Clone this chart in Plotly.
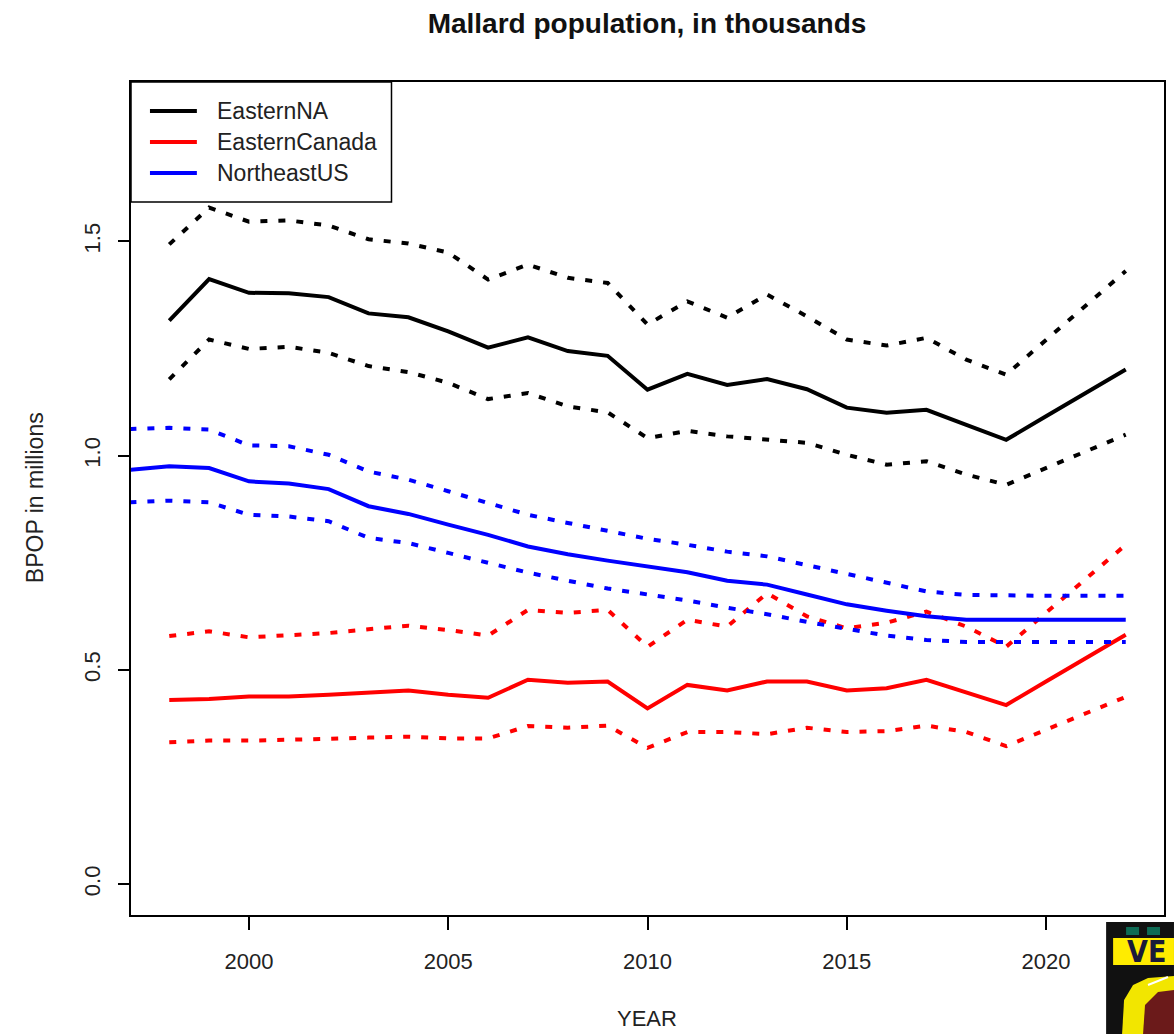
import plotly.graph_objects as go

# Survey years
years = list(range(1998, 2023))
ne_years = list(range(1997, 2023))

# Breeding population estimates (millions) with lower/upper bounds
eastern_na = [1.315, 1.412, 1.380, 1.379, 1.370, 1.332, 1.323, 1.290, 1.252, 1.276, 1.244, 1.233, 1.154,
              1.191, 1.165, 1.179, 1.155, 1.112, 1.100, 1.107, 1.072, 1.037, 1.092, 1.146, 1.201]
eastern_na_hi = [1.493, 1.579, 1.546, 1.549, 1.537, 1.505, 1.495, 1.474, 1.411, 1.446, 1.415, 1.403, 1.306,
                 1.360, 1.322, 1.376, 1.325, 1.271, 1.257, 1.275, 1.224, 1.189, 1.270, 1.350, 1.431]
eastern_na_lo = [1.178, 1.271, 1.249, 1.254, 1.240, 1.209, 1.195, 1.170, 1.132, 1.146, 1.115, 1.101, 1.041,
                 1.058, 1.045, 1.037, 1.030, 1.002, 0.979, 0.987, 0.956, 0.932, 0.971, 1.010, 1.049]

eastern_canada = [0.430, 0.432, 0.438, 0.438, 0.442, 0.446, 0.452, 0.442, 0.435, 0.477, 0.470, 0.473, 0.410,
                  0.465, 0.452, 0.473, 0.473, 0.452, 0.457, 0.477, 0.448, 0.418, 0.473, 0.527, 0.582]
eastern_canada_hi = [0.579, 0.590, 0.576, 0.580, 0.586, 0.595, 0.603, 0.593, 0.580, 0.640, 0.633, 0.640, 0.554,
                     0.617, 0.601, 0.679, 0.625, 0.597, 0.610, 0.636, 0.601, 0.554, 0.633, 0.713, 0.792]
eastern_canada_lo = [0.331, 0.335, 0.335, 0.336, 0.339, 0.342, 0.344, 0.340, 0.340, 0.369, 0.365, 0.370, 0.318,
                     0.355, 0.355, 0.350, 0.365, 0.355, 0.357, 0.370, 0.355, 0.322, 0.360, 0.398, 0.437]

northeast_us = [0.967, 0.975, 0.971, 0.940, 0.935, 0.922, 0.882, 0.864, 0.839, 0.815, 0.788, 0.770, 0.755,
                0.742, 0.728, 0.708, 0.699, 0.676, 0.653, 0.638, 0.625, 0.617, 0.617, 0.617, 0.617, 0.617]
northeast_us_hi = [1.062, 1.065, 1.061, 1.024, 1.022, 1.002, 0.963, 0.944, 0.917, 0.889, 0.862, 0.843, 0.825,
                   0.806, 0.792, 0.776, 0.765, 0.744, 0.725, 0.703, 0.683, 0.675, 0.673, 0.673, 0.673, 0.673]
northeast_us_lo = [0.891, 0.895, 0.891, 0.862, 0.858, 0.847, 0.808, 0.796, 0.773, 0.749, 0.727, 0.708, 0.690,
                   0.676, 0.662, 0.645, 0.630, 0.612, 0.597, 0.580, 0.570, 0.565, 0.565, 0.565, 0.565, 0.565]

series_names = ["EasternNA", "EasternCanada", "NortheastUS"]
series_colors = ["#000000", "#ff0000", "#0000ff"]

x_ticks = [2000, 2005, 2010, 2015, 2020]
y_ticks = [0.0, 0.5, 1.0, 1.5]

W, H = 1174, 1034
ML, MR, MT, MB = 131, 8, 82, 119
PW, PH = W - ML - MR, H - MT - MB
FONT = "Liberation Sans, Arial, sans-serif"
TXT = 22


def px(x):
    return (x - ML) / PW


def py(y):
    return 1 - (y - MT) / PH


fig = go.Figure()

groups = [
    (years, eastern_na, eastern_na_lo, eastern_na_hi),
    (years, eastern_canada, eastern_canada_lo, eastern_canada_hi),
    (ne_years, northeast_us, northeast_us_lo, northeast_us_hi),
]

for (xs, mid, lo, hi), name, color in zip(groups, series_names, series_colors):
    for band in (hi, lo):
        fig.add_trace(go.Scatter(x=xs, y=band, mode="lines", showlegend=False, hoverinfo="skip",
                                 line=dict(color=color, width=4, dash="7px,11px")))
    fig.add_trace(go.Scatter(x=xs, y=mid, mode="lines", name=name, showlegend=False,
                             line=dict(color=color, width=4)))

shapes = []
annotations = []

# Legend box in the top-left corner
shapes.append(dict(type="rect", xref="paper", yref="paper", x0=px(131), x1=px(392), y0=py(82), y1=py(202),
                   line=dict(color="black", width=1.5), fillcolor="white", layer="above"))
for i, (name, color) in enumerate(zip(series_names, series_colors)):
    yy = 111 + i * 31
    shapes.append(dict(type="line", xref="paper", yref="paper", x0=px(150), x1=px(197), y0=py(yy), y1=py(yy),
                       line=dict(color=color, width=4), layer="above"))
    annotations.append(dict(xref="paper", yref="paper", x=px(215), y=py(yy), text=name, showarrow=False,
                            xanchor="left", yanchor="middle", font=dict(family=FONT, size=23, color="#222")))

# Axis titles
annotations.append(dict(xref="paper", yref="paper", x=px(648), y=py(1018), text="YEAR", showarrow=False,
                        xanchor="center", yanchor="middle", font=dict(family=FONT, size=TXT, color="#222")))
annotations.append(dict(xref="paper", yref="paper", x=px(35), y=py(498), text="BPOP in millions",
                        showarrow=False, textangle=-90, xanchor="center", yanchor="middle",
                        font=dict(family=FONT, size=23, color="#222")))

# Badge in the lower-right corner
shapes += [
    dict(type="rect", xref="paper", yref="paper", x0=px(1108), x1=px(1176), y0=py(922), y1=py(1036),
         fillcolor="#111111", line=dict(width=0), layer="above"),
    dict(type="rect", xref="paper", yref="paper", x0=px(1128), x1=px(1141), y0=py(927), y1=py(935),
         fillcolor="#0e6b55", line=dict(width=0), layer="above"),
    dict(type="rect", xref="paper", yref="paper", x0=px(1149), x1=px(1162), y0=py(927), y1=py(935),
         fillcolor="#0e6b55", line=dict(width=0), layer="above"),
    dict(type="rect", xref="paper", yref="paper", x0=px(1115), x1=px(1176), y0=py(938), y1=py(965),
         fillcolor="#ffec00", line=dict(width=0), layer="above"),
    dict(type="path", xref="paper", yref="paper", layer="above", fillcolor="#f2e600", line=dict(width=0),
         path=(f"M {px(1124)},{py(1034)} L {px(1126)},{py(1000)} L {px(1135)},{py(985)} "
               f"L {px(1150)},{py(978)} L {px(1176)},{py(976)} L {px(1176)},{py(1034)} Z")),
    dict(type="path", xref="paper", yref="paper", layer="above", fillcolor="#6b1a1a", line=dict(width=0),
         path=(f"M {px(1145)},{py(1034)} L {px(1147)},{py(1005)} L {px(1160)},{py(992)} "
               f"L {px(1176)},{py(990)} L {px(1176)},{py(1034)} Z")),
    dict(type="line", xref="paper", yref="paper", layer="above", line=dict(color="white", width=2),
         x0=px(1150), x1=px(1170), y0=py(985), y1=py(977)),
]
annotations.append(dict(xref="paper", yref="paper", x=px(1127), y=py(952), text="<b>VE</b>", showarrow=False,
                        xanchor="left", yanchor="middle",
                        font=dict(family="DejaVu Sans Condensed, DejaVu Sans", size=30, color="#1a1a3a")))

fig.update_layout(
    width=W, height=H,
    margin=dict(l=ML, r=MR, t=MT, b=MB),
    paper_bgcolor="white", plot_bgcolor="white",
    title=dict(text="<b>Mallard population, in thousands</b>", x=px(648), xref="paper", xanchor="center",
               y=1 - 23 / H, yref="container", yanchor="middle",
               font=dict(family=FONT, size=28, color="#111")),
    font=dict(family=FONT, color="#222"),
    shapes=shapes,
    annotations=annotations,
    xaxis=dict(range=[1997.04, 2022.96], tickvals=x_ticks, ticktext=[str(t) for t in x_ticks],
               showgrid=False, zeroline=False, showline=True, mirror=True, linecolor="black", linewidth=1.5,
               ticks="outside", ticklen=13, tickwidth=1.5, tickcolor="black",
               tickfont=dict(family=FONT, size=TXT, color="#222"), ticklabelstandoff=13),
    yaxis=dict(range=[-0.072, 1.872], tickvals=y_ticks, ticktext=[f"{t:.1f}" for t in y_ticks],
               showgrid=False, zeroline=False, showline=True, mirror=True, linecolor="black", linewidth=1.5,
               ticks="outside", ticklen=11, tickwidth=1.5, tickcolor="black", tickangle=-90,
               tickfont=dict(family=FONT, size=TXT, color="#222"), ticklabelstandoff=9),
)

fig.write_html("out.html")
